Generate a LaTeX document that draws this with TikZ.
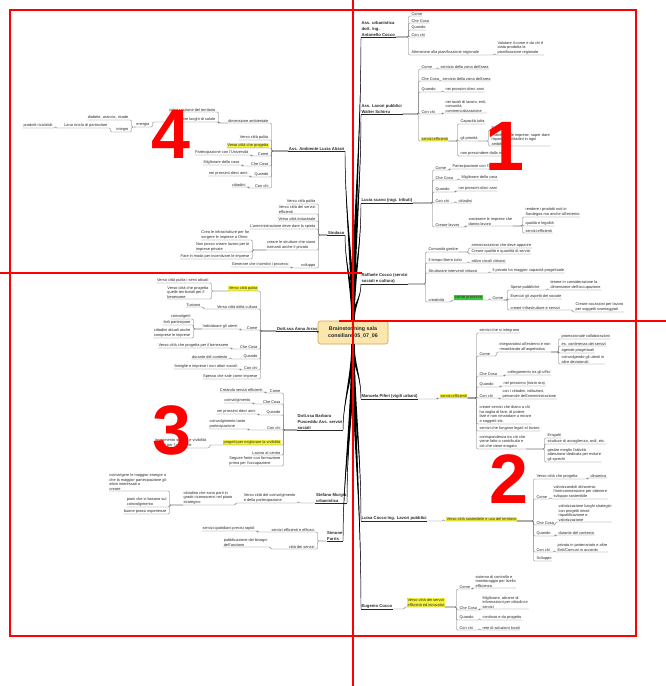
\documentclass[tikz,border=0pt]{standalone}
\usepackage{fontspec}
\setmainfont{Liberation Sans}
\usetikzlibrary{calc}
\definecolor{txt}{HTML}{2B2B2B}
\definecolor{lnk}{HTML}{6E6E6E}
\definecolor{hly}{HTML}{F4F23A}
\definecolor{hlg}{HTML}{3CCB3C}
\definecolor{ctrfill}{HTML}{FBE6AE}
\definecolor{ctrdraw}{HTML}{D8A248}
\definecolor{redline}{HTML}{FF0000}
\tikzset{
  topic/.style={font=\fontsize{3.9}{4.6}\selectfont, text=txt, inner xsep=0.4pt, inner ysep=0.5pt, align=left},
  rt/.style={topic, anchor=south west},
  lt/.style={topic, anchor=south east},
  main/.style={font=\bfseries\fontsize{4.2}{6}\selectfont},
  hl/.style={fill=hly},
  hg/.style={fill=hlg},
  ctrbox/.style={draw=ctrdraw, fill=ctrfill, line width=0.6pt, rounded corners=2.5pt,
    minimum width=70pt, minimum height=23pt, align=center,
    font=\bfseries\fontsize{5.3}{6.4}\selectfont, text=black!85},
  sub/.style={draw=lnk, line width=0.4pt, rounded corners=1.2pt},
  mainline/.style={draw=black!85, line width=0.8pt},
  frame/.style={draw=redline, line width=1.6pt},
  num/.style={text=redline, font=\bfseries\fontsize{70}{70}\selectfont, inner sep=0pt},
}
% tapered trunk: thick at the central topic (#1), thin at the main topic (#4)
\newcommand\trunkfill[4]{%
  \fill[black] ($(#1)+(-1.7,0)$) .. controls +(#2) and +(#3) .. (#4)
     .. controls +(#3) and +(#2) .. ($(#1)+(1.7,0)$) -- cycle;
  \draw[black, line width=0.45pt] (#1) .. controls +(#2) and +(#3) .. (#4);}
\begin{document}
\begin{tikzpicture}[x=1pt,y=-1pt]
\useasboundingbox (0,0) rectangle (666,686);
\fill[white] (0,0) rectangle (666,686);

% central topic
\node[ctrbox] (ctr) at (353,332.5) {Brainstorming sala\\consiliare 05\_07\_06};

% ---------- right side ----------
\node[rt,main] (m1) at (361,37) {Ass. urbanistica\\dott. Ing.\\Antonello Cocco};
\node[rt] (a1) at (411,16) {Come};
\node[rt] (a2) at (411,23) {Che Cosa};
\node[rt] (a3) at (411,30) {Quando};
\node[rt] (a4) at (411,37) {Con chi};
\node[rt] (a5) at (411,55) {Attenzione alla pianificazione regionale};
\node[rt] (a51) at (497,55) {Valutare il come e da chi è\\stata prodotta la\\pianificazione regionale};

\node[rt,main] (m2) at (361,114) {Ass. Lavori pubblici\\Walter Schirru};
\node[rt] (b1) at (421,69) {Come};
\node[rt] (b11) at (440,69) {servizio della zona dell'area};
\node[rt] (b2) at (421,81) {Che Cosa};
\node[rt] (b21) at (442,81) {servizio della zona dell'area};
\node[rt] (b3) at (421,92) {Quando};
\node[rt] (b31) at (445,92) {nei prossimi dieci anni};
\node[rt] (b4) at (421,114) {Con chi};
\node[rt] (b41) at (445,113) {nei tavoli di lavoro, enti,\\comunità,\\commercializzazione};
\node[rt,hl] (b5) at (421,141) {servizi efficienti};
\node[rt] (b51) at (460,124) {Capacità tutta};
\node[rt] (b52) at (460,141) {gli priorità};
\node[rt] (b521) at (491,130) {Ente};
\node[rt] (b522) at (491,146) {Pianificare le imprese, saper dare\\risposte ai cittadini in ogni\\ambito};
\node[rt] (b53) at (460,156) {non prescindere dalla realtà};

\node[rt,main] (m3) at (361,203) {Lucia scano (ragi. tributi)};
\node[rt] (c1) at (435,170) {Come};
\node[rt] (c11) at (452,169) {Partecipazione con l'Università};
\node[rt] (c2) at (435,180) {Che Cosa};
\node[rt] (c21) at (461,180) {Migliorare della casa};
\node[rt] (c3) at (435,192) {Quando};
\node[rt] (c31) at (458,191) {nei prossimi dieci anni};
\node[rt] (c4) at (435,203) {Con chi};
\node[rt] (c41) at (458,203) {cittadini};
\node[rt] (c5) at (435,227) {Creare lavoro};
\node[rt] (c51) at (468,226) {sostenere le imprese che\\danno lavoro};
\node[rt] (c511) at (525,217) {rendere i prodotti noti in\\Sardegna ma anche all'esterno};
\node[rt] (c512) at (525,226) {qualità e legalità};
\node[rt] (c513) at (525,233) {servizi efficienti};

\node[rt,main] (m4) at (361,284) {Raffaele Cocco (servizi\\sociali e cultura)};
\node[rt] (d1) at (428,252) {Comunità gestire};
\node[rt] (d11) at (471,248) {armonizzazione che deve apparire};
\node[rt] (d12) at (471,254) {Creare qualità e quantità di servizi};
\node[rt] (d2) at (428,263) {Il tempo libero tutto};
\node[rt] (d21) at (471,263) {attivo circoli virtuosi};
\node[rt] (d3) at (428,273) {Strutturare interventi virtuosi};
\node[rt] (d31) at (492,273) {Il privato ha maggior capacità progettuale};
\node[rt] (d4) at (428,302) {creatività};
\node[rt,hg] (d41) at (454,300) {valore prossimo};
\node[rt] (d411) at (492,300) {Come};
\node[rt] (d4111) at (510,290) {Spese pubbliche};
\node[rt] (d41111) at (550,290) {tenere in considerazione la\\dimensione dell'occupazione};
\node[rt] (d4112) at (510,299) {Esercizi gli aspetti del sociale};
\node[rt] (d4113) at (510,310) {creare infrastrutture e servizi};
\node[rt] (d41131) at (575,312) {Creare occasioni per lavoro\\per soggetti svantaggiati};

\node[rt,main] (m5) at (361,399) {Manuela Piferi (vigili urbani)};
\node[rt,hl] (e0) at (440,398) {servizi efficienti};
\node[rt] (e1) at (479,333) {servizi che si integrano};
\node[rt] (e2) at (479,356) {Come};
\node[rt] (e21) at (499,352) {integrandosi all'esterno e non\\rimandando all'aspettativa};
\node[rt] (e211) at (561,339) {promozionale collaborazioni};
\node[rt] (e212) at (561,346) {es. conferenza dei servizi};
\node[rt] (e213) at (561,353) {agende progettuali};
\node[rt] (e214) at (561,364) {coinvolgendo gli utenti in\\altre decisionali};
\node[rt] (e3) at (479,376) {Che Cosa};
\node[rt] (e31) at (507,375) {collegamento tra gli uffici};
\node[rt] (e4) at (479,387) {Quando};
\node[rt] (e41) at (503,386) {nel prossimo (inizio ora)};
\node[rt] (e5) at (479,398) {Con chi};
\node[rt] (e51) at (502,399) {con i cittadini, istituzioni,\\personale dell'amministrazione};
\node[rt] (e6) at (479,424) {creare servizi che diano a chi\\ha voglia di fare, di potere\\fare e non rimandare a mirare\\a soggetti etc.};
\node[rt] (e7) at (479,431) {servizi che fungano legati al lavoro};
\node[rt] (e8) at (479,449) {corrispondenza tra ciò che\\viene fatto o contribuito e\\ciò che viene erogato};
\node[rt] (e81) at (547,438) {Erogatti};
\node[rt] (e82) at (547,444) {strutture di accoglienza, asili, etc.};
\node[rt] (e83) at (547,462) {gestire meglio l'attività\\attenzione dedicata per evitare\\gli sprechi};

\node[rt,main] (m6) at (361,521) {Luisa Cocco Ing. Lavori pubblici};
\node[rt,hl] (f0) at (446,521) {Verso città sostenibile e uso del territorio};
\node[rt] (f1) at (536,479) {Verso città che progetta};
\node[rt] (f11) at (590,478) {dinamica};
\node[rt] (f2) at (536,499) {Come};
\node[rt] (f21) at (553,499) {valorizzandoli attraverso\\l'interconnessione per ottenere\\sviluppo sostenibile};
\node[rt] (f3) at (536,525) {Che Cosa};
\node[rt] (f31) at (558,522) {valorizzazione luoghi strategici\\con progetti mirati\\riqualificazione e\\valorizzazione};
\node[rt] (f4) at (536,536) {Quando};
\node[rt] (f41) at (558,535) {durante del contesto};
\node[rt] (f5) at (536,552) {Con chi};
\node[rt] (f51) at (557,552) {privato in partenariato e altre\\Enti/Comuni in accordo};
\node[rt] (f6) at (536,561) {Sviluppo};

\node[rt,main] (m7) at (361,609) {Eugenio Cocco};
\node[rt,hl] (g0) at (407,607) {Verso città dei servizi\\efficienti ed innovativi};
\node[rt] (g1) at (459,589) {Come};
\node[rt] (g11) at (475,588) {sistema di controllo e\\monitoraggio per livello\\efficienza};
\node[rt] (g2) at (459,610) {Che Cosa};
\node[rt] (g21) at (482,609) {Migliorare, attrarre di\\informazioni per cittadini e\\servizi};
\node[rt] (g3) at (459,620) {Quando};
\node[rt] (g31) at (482,620) {continuo e da progetto};
\node[rt] (g4) at (459,630) {Con chi};
\node[rt] (g41) at (482,630) {rete di soluzioni locali};

% ---------- left side ----------
\node[lt,main] (n1) at (345,151) {Ass. Ambiente Lucia Alziari};
\node[lt] (h1) at (269,123) {dimensione ambientale};
\node[lt] (h11) at (216,112) {valorizzazione del territorio};
\node[lt] (h12) at (216,122) {riqualificare luoghi di salute};
\node[lt] (h121) at (150,127) {energia};
\node[lt] (h1211) at (129,120) {diabete, arancio, ricade};
\node[lt] (h1212) at (129,132) {integro};
\node[lt] (h12121) at (108,128) {Lana riciclo di particolare};
\node[lt] (h121211) at (53,128) {prodotti riciclabili};
\node[lt] (h2) at (269,140) {Verso città pulita};
\node[lt,hl] (h3) at (269,148) {Verso città che progetta};
\node[lt] (h4) at (269,156) {Come};
\node[lt] (h41) at (249,155) {Partecipazione con l'Università};
\node[lt] (h5) at (269,166) {Che Cosa};
\node[lt] (h51) at (240,165) {Migliorare della casa};
\node[lt] (h6) at (269,177) {Quando};
\node[lt] (h61) at (248,176) {nei prossimi dieci anni};
\node[lt] (h7) at (269,188) {Con chi};
\node[lt] (h71) at (246,187) {cittadini};

\node[lt,main] (n2) at (345,235) {Sindaco};
\node[lt] (i1) at (316,204) {Verso città pulita};
\node[lt] (i2) at (316,214) {Verso città dei servizi\\efficienti};
\node[lt] (i3) at (316,221) {Verso città industriale};
\node[lt] (i4) at (316,229) {L'amministrazione deve dare la spinta};
\node[lt] (i5) at (316,250) {creare le strutture che siano\\trainanti anche il privato};
\node[lt] (i51) at (250,240) {Crea le infrastrutture per far\\sorgere le imprese a Olmo};
\node[lt] (i52) at (250,252) {Non posso creare lavoro per le\\imprese private};
\node[lt] (i53) at (250,259) {Fare in modo per incentivare le imprese};
\node[lt] (i6) at (316,268) {sviluppo};
\node[lt] (i61) at (289,267) {Generare che incentivi i processi};

\node[lt,main] (n3) at (318,331) {Dott.ssa Anna Arras};
\node[lt,hl] (j1) at (258,291) {Verso città pulita};
\node[lt] (j11) at (209,283) {Verso città pulita i servi attuali};
\node[lt] (j12) at (209,299) {Verso città che progetta\\quelle territoriali per il\\benessere};
\node[lt] (j2) at (258,309) {Verso città della cultura};
\node[lt] (j21) at (201,307) {Turismo};
\node[lt] (j3) at (258,330) {Come};
\node[lt] (j31) at (238,329) {Individuare gli utenti};
\node[lt] (j311) at (191,319) {coinvolgerli};
\node[lt] (j312) at (191,325) {farli partecipare};
\node[lt] (j313) at (191,338) {cittadini attuali anche\\comprese le imprese};
\node[lt] (j4) at (258,349) {Che Cosa};
\node[lt] (j41) at (229,348) {Verso città che progetta per il benessere};
\node[lt] (j5) at (258,359) {Quando};
\node[lt] (j51) at (228,359) {durante del contesto};
\node[lt] (j6) at (258,370) {Con chi};
\node[lt] (j61) at (238,369) {famiglie e imprese i non attori sociali};
\node[lt] (j7) at (258,379) {Spesso che sale come imprese};

\node[lt,main] (n4) at (343,430) {Dott.ssa Barbara\\Pusceddu Ass. servizi\\sociali};
\node[lt] (k1) at (281,393) {Come};
\node[lt] (k11) at (263,392) {Creando servizi efficienti};
\node[lt] (k2) at (281,404) {Che Cosa};
\node[lt] (k21) at (251,403) {coinvolgimento};
\node[lt] (k3) at (281,415) {Quando};
\node[lt] (k31) at (256,414) {nei prossimi dieci anni};
\node[lt] (k4) at (281,430) {Con chi};
\node[lt] (k41) at (246,429) {coinvolgimento tanto\\partecipazione};
\node[lt,hl] (k5) at (281,445) {progetti per migliorare la vivibilità};
\node[lt] (k51) at (207,448) {inserimento sociale e vivibilità\\servizi per l'ambiente};
\node[lt] (k6) at (281,455) {Lavoro al centro};
\node[lt] (k7) at (281,466) {Seguire fonte con formazione\\prima per l'occupazione};

\node[lt,main] (n5) at (347,503) {Stefano Murgia\\urbanistica};
\node[lt] (l1) at (296,503) {Verso città del coinvolgimento\\e della partecipazione};
\node[lt] (l11) at (233,505) {cittadino che sono parti in\\grado riconoscersi nel piano\\strategico};
\node[lt] (l111) at (167,491) {coinvolgere le maggior energie a\\che la maggior partecipazione gli\\attori interessati a\\creare};
\node[lt] (l112) at (167,507) {piani che si basano sul\\coinvolgimento};
\node[lt] (l113) at (167,514) {buone prassi esperienze};

\node[lt,main] (n6) at (343,541) {Simone\\Farris};
\node[lt] (o1) at (315,532) {servizi efficienti e efficaci};
\node[lt] (o11) at (255,531) {servizi quotidiani precisi rapidi};
\node[lt] (o2) at (315,549) {città dei servizi};
\node[lt] (o21) at (268,547) {pubblicazione dei bisogni\\dell'anziano};

% ---------- sub-topic connectors (they also underline the child) ----------
\foreach \p/\c in {m1/a1,m1/a2,m1/a3,m1/a4,m1/a5,a5/a51,
  m2/b1,b1/b11,m2/b2,b2/b21,m2/b3,b3/b31,m2/b4,b4/b41,m2/b5,b5/b51,b5/b52,b52/b521,b52/b522,b5/b53,
  m3/c1,c1/c11,m3/c2,c2/c21,m3/c3,c3/c31,m3/c4,c4/c41,m3/c5,c5/c51,c51/c511,c51/c512,c51/c513,
  m4/d1,d1/d11,d1/d12,m4/d2,d2/d21,m4/d3,d3/d31,m4/d4,d4/d41,d41/d411,d411/d4111,d4111/d41111,d411/d4112,d411/d4113,d4113/d41131,
  m5/e0,e0/e1,e0/e2,e0/e3,e0/e4,e0/e5,e0/e6,e0/e7,e0/e8,e2/e21,e21/e211,e21/e212,e21/e213,e21/e214,e3/e31,e4/e41,e5/e51,e8/e81,e8/e82,e8/e83,
  m6/f0,f0/f1,f0/f2,f0/f3,f0/f4,f0/f5,f0/f6,f1/f11,f2/f21,f3/f31,f4/f41,f5/f51,
  m7/g0,g0/g1,g0/g2,g0/g3,g0/g4,g1/g11,g2/g21,g3/g31,g4/g41}
  \draw[sub] (\p.south east) -| ($(\c.south west)+(-2.5,0)$) -- (\c.south west) -- (\c.south east);

\foreach \p/\c in {n1/h1,h1/h11,h1/h12,h12/h121,h121/h1211,h121/h1212,h1212/h12121,h12121/h121211,
  n1/h2,n1/h3,n1/h4,n1/h5,n1/h6,n1/h7,h4/h41,h5/h51,h6/h61,h7/h71,
  n2/i1,n2/i2,n2/i3,n2/i4,n2/i5,n2/i6,i5/i51,i5/i52,i5/i53,i6/i61,
  n3/j1,n3/j2,n3/j3,n3/j4,n3/j5,n3/j6,n3/j7,j1/j11,j1/j12,j2/j21,j3/j31,j31/j311,j31/j312,j31/j313,j4/j41,j5/j51,j6/j61,
  n4/k1,n4/k2,n4/k3,n4/k4,n4/k5,n4/k6,n4/k7,k1/k11,k2/k21,k3/k31,k4/k41,k5/k51,
  n5/l1,l1/l11,l11/l111,l11/l112,l11/l113,
  n6/o1,n6/o2,o1/o11,o2/o21}
  \draw[sub] (\p.south west) -| ($(\c.south east)+(2.5,0)$) -- (\c.south east) -- (\c.south west);

% ---------- main topic underlines ----------
\foreach \m in {m1,m2,m3,m4,m5,m6,m7,n1,n2,n3,n4,n5,n6}
  \draw[mainline] (\m.south west) -- (\m.south east);

% ---------- tapered trunks from the central topic ----------
\trunkfill{ctr.north}{0,-80}{0,100}{m1.south west}
\trunkfill{ctr.north}{0,-60}{0,80}{m2.south west}
\trunkfill{ctr.north}{0,-40}{0,50}{m3.south west}
\trunkfill{ctr.north}{0,-15}{0,15}{m4.south west}
\trunkfill{ctr.south}{0,20}{0,-25}{m5.south west}
\trunkfill{ctr.south}{0,60}{0,-80}{m6.south west}
\trunkfill{ctr.south}{0,80}{0,-110}{m7.south west}
\trunkfill{ctr.north}{0,-50}{0,60}{n1.south east}
\trunkfill{ctr.north}{0,-30}{0,30}{n2.south east}
\draw[black, line width=1.1pt] (ctr.west) -- (n3.south east);
\trunkfill{ctr.south}{0,30}{0,-30}{n4.south east}
\trunkfill{ctr.south}{0,60}{0,-60}{n5.south east}
\trunkfill{ctr.south}{0,70}{0,-70}{n6.south east}

% ---------- quadrant numbers ----------
\node[num] (q4) at (171,134) {4};
\node[num] (q1) at (505,146) {1};
\node[num] (q3) at (172,430) {3};
\node[num] (q2) at (509,479) {2};

% ---------- quadrant grid ----------
\draw[frame] (10,10) rectangle (636,636);
\draw[frame] (353,0) -- (353,686);
\draw[frame] (0,273) -- (362,273);
\draw[frame] (339,321) -- (666,321);
\end{tikzpicture}
\end{document}
